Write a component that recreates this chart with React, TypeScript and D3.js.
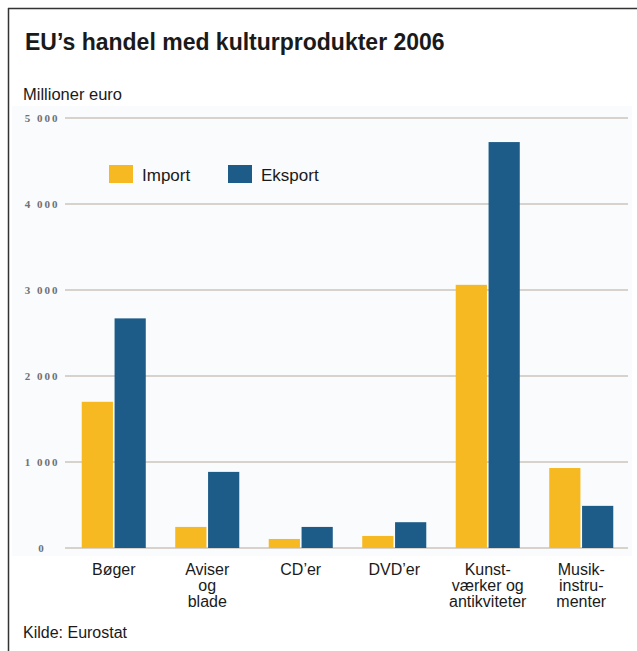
import React from 'react';
import * as d3 from 'd3';

const categories = ['Bøger', 'Aviser\nog\nblade', 'CD’er', 'DVD’er', 'Kunst-\nværker og\nantikviteter', 'Musik-\ninstru-\nmenter'];
const importValues = [1700, 245, 105, 140, 3060, 930];
const eksportValues = [2670, 885, 245, 300, 4720, 490];
const seriesNames = ['Import', 'Eksport'];
const yTicks = [0, 1000, 2000, 3000, 4000, 5000];

const W = 637;
const H = 651;
const colors = ['#f6b921', '#1d5b88'];
const fontNarrow = '"Liberation Sans Narrow", "Liberation Sans", Arial, sans-serif';
const font = '"Liberation Sans", Arial, sans-serif';

const App: React.FC = () => {
  const x0 = d3.scaleBand<string>()
    .domain(categories)
    .range([67, 628])
    .paddingInner(0.28)
    .paddingOuter(0.14);

  const x1 = d3.scaleBand<string>()
    .domain(seriesNames)
    .range([0, x0.bandwidth()])
    .padding(0.05);

  const y = d3.scaleLinear().domain([0, 5000]).range([548, 118]);

  const rows = categories.map((c, i) => ({ category: c, values: [importValues[i], eksportValues[i]] }));
  const fmt = (v: number) => (v === 0 ? '0' : d3.format(',')(v).replace(',', ' '));

  return (
    <svg width={W} height={H} style={{ position: 'absolute', left: 0, top: 0, background: '#fff' }}>
      {/* frame */}
      <line x1={8.5} y1={8} x2={8.5} y2={H} stroke="#333" strokeWidth={1.5} />
      <line x1={8} y1={8.5} x2={W} y2={8.5} stroke="#333" strokeWidth={1.5} />

      <text x={25} y={50} fontFamily={fontNarrow} fontWeight="bold" fontSize={23} fill="#1a1a1a">
        EU’s handel med kulturprodukter 2006
      </text>
      <text x={23} y={100} fontFamily={font} fontSize={16.5} fill="#1a1a1a">Millioner euro</text>

      {/* plot background */}
      <rect x={12} y={106} width={620} height={450} fill="#f9fbfc" />

      {yTicks.map(t => (
        <g key={t}>
          <line x1={65} x2={628} y1={y(t)} y2={y(t)} stroke="#cdc4bd" strokeWidth={1.5} />
          <text x={42} y={y(t)} dy="0.35em" textAnchor="middle" fontFamily='"Liberation Serif", serif'
            fontWeight="bold" fontSize={11} letterSpacing={2} fill="#707070">{fmt(t)}</text>
        </g>
      ))}

      {rows.map(r => (
        <g key={r.category} transform={`translate(${x0(r.category)},0)`}>
          {r.values.map((v, j) => (
            <rect key={j} x={x1(seriesNames[j])} y={y(v)} width={x1.bandwidth()} height={y(0) - y(v)} fill={colors[j]} />
          ))}
        </g>
      ))}

      {categories.map(c => (
        <text key={c} x={(x0(c) as number) + x0.bandwidth() / 2} y={575} textAnchor="middle"
          fontFamily={font} fontSize={16} fill="#1a1a1a">
          {c.split('\n').map((line, k) => (
            <tspan key={k} x={(x0(c) as number) + x0.bandwidth() / 2} dy={k === 0 ? 0 : 16}>{line}</tspan>
          ))}
        </text>
      ))}

      {/* legend */}
      {seriesNames.map((s, i) => (
        <g key={s} transform={`translate(${[109, 228][i]},165)`}>
          <rect width={24} height={18} fill={colors[i]} />
          <text x={33} y={16} fontFamily={font} fontSize={17} fill="#1a1a1a">{s}</text>
        </g>
      ))}

      <text x={23} y={638} fontFamily={font} fontSize={16} fill="#1a1a1a">Kilde: Eurostat</text>
    </svg>
  );
};

export default App;
